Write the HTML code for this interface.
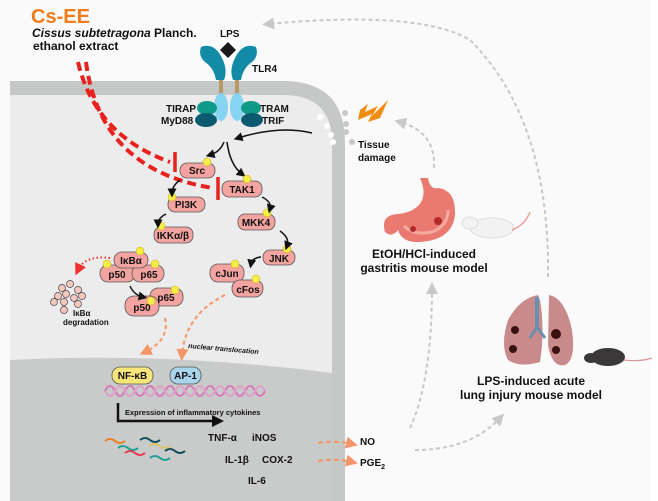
<!DOCTYPE html>
<html><head><meta charset="utf-8"><style>
html,body{margin:0;padding:0;background:#fff;}
svg{display:block;font-family:"Liberation Sans",Arial,sans-serif;font-weight:bold;}
</style></head><body>
<svg width="658" height="501" viewBox="0 0 658 501" xmlns="http://www.w3.org/2000/svg">
<defs>
<marker id="ga" markerWidth="6" markerHeight="6" refX="3" refY="3" orient="auto"><path d="M0,0 L6,3 L0,6z" fill="#c8c8c8"/></marker>
<marker id="oa" markerWidth="6" markerHeight="6" refX="3" refY="3" orient="auto"><path d="M0,0 L6,3 L0,6z" fill="#f4956a"/></marker>
<marker id="ka" markerWidth="6" markerHeight="6" refX="3" refY="3" orient="auto"><path d="M0,0 L6,3 L0,6z" fill="#111"/></marker>
<marker id="ra" markerWidth="6" markerHeight="6" refX="3" refY="3" orient="auto"><path d="M0,0 L6,3 L0,6z" fill="#e33"/></marker>
</defs>
<rect width="658" height="501" fill="#fafafa"/>
<rect x="651" y="0" width="7" height="501" fill="#fff"/>
<path d="M10,81 L283,81 Q345,81 345,143 L345,501 L10,501 Z" fill="#c6c7c7"/>
<path d="M10,95 L283,95 Q332,95 332,143 L332,501 L10,501 Z" fill="#ececec"/>
<path d="M10,360 Q170,352 332,373 L332,501 L10,501 Z" fill="#c9caca"/>
<text x="31" y="23" font-size="20" fill="#f07c1c">Cs-EE</text>
<text x="32" y="37" font-size="12" fill="#111"><tspan font-style="italic">Cissus subtetragona</tspan> Planch.</text>
<text x="33" y="50" font-size="12" fill="#111">ethanol extract</text>
<text x="220" y="37" font-size="10" fill="#111">LPS</text>
<path d="M228,42 L236,50 L228,58 L220,50z" fill="#1a1a1a"/>
<path d="M201,47 Q214,42 222,58 Q228,70 224,80 L216,80 Q214,68 205,62 Q198,56 201,47z" fill="#138aa6"/>
<path d="M256,47 Q243,42 235,58 Q229,70 233,80 L241,80 Q243,68 252,62 Q259,56 256,47z" fill="#138aa6"/>
<rect x="219" y="80" width="4" height="16" fill="#b89a6a"/><rect x="235" y="80" width="4" height="16" fill="#b89a6a"/>
<ellipse cx="221" cy="107" rx="7" ry="14" fill="#86d4f2"/><ellipse cx="237" cy="107" rx="7" ry="14" fill="#86d4f2"/>
<text x="252" y="72" font-size="10" fill="#111">TLR4</text>
<ellipse cx="207" cy="108" rx="10" ry="7" fill="#0f9a88"/><ellipse cx="206" cy="120" rx="11" ry="7" fill="#0b5a70"/>
<ellipse cx="251" cy="108" rx="10" ry="7" fill="#0f9a88"/><ellipse cx="252" cy="120" rx="11" ry="7" fill="#0b5a70"/>
<text x="166" y="112" font-size="10" fill="#111">TIRAP</text>
<text x="161" y="124" font-size="10" fill="#111">MyD88</text>
<text x="260" y="112" font-size="10" fill="#111">TRAM</text>
<text x="262" y="124" font-size="10" fill="#111">TRIF</text>
<path d="M312,133 Q280,125 238,138" stroke="#111" stroke-width="1.5" fill="none" marker-end="url(#ka)"/>
<path d="M224,142 Q220,152 210,155" stroke="#111" stroke-width="1.5" fill="none" marker-end="url(#ka)"/>
<path d="M227,142 Q230,165 242,174" stroke="#111" stroke-width="1.5" fill="none" marker-end="url(#ka)"/>
<path d="M78,62 Q95,135 170,162" stroke="#e8221f" stroke-width="4" stroke-dasharray="9,5" fill="none"/>
<line x1="175" y1="152" x2="175" y2="172" stroke="#e8221f" stroke-width="3.5"/>
<path d="M86,62 Q100,170 213,188" stroke="#e8221f" stroke-width="4" stroke-dasharray="9,5" fill="none"/>
<line x1="218" y1="177" x2="218" y2="200" stroke="#e8221f" stroke-width="3.5"/>
<g font-size="10" fill="#111" stroke="#555" stroke-width="0.8">
<rect x="180" y="163" width="35" height="15" rx="7" fill="#f4a4a0"/>
<rect x="222" y="181" width="40" height="16" rx="7" fill="#f4a4a0"/>
<rect x="168" y="197" width="37" height="15" rx="7" fill="#f4a4a0"/>
<rect x="238" y="214" width="37" height="16" rx="7" fill="#f4a4a0"/>
<rect x="154" y="227" width="39" height="16" rx="7" fill="#f4a4a0"/>
<rect x="263" y="250" width="32" height="15" rx="7" fill="#f4a4a0"/>
<rect x="100" y="265" width="35" height="17" rx="8" fill="#f4a4a0"/>
<rect x="132" y="265" width="32" height="17" rx="8" fill="#f4a4a0"/>
<rect x="114" y="252" width="34" height="16" rx="8" fill="#f4a4a0"/>
<rect x="150" y="288" width="33" height="18" rx="8" fill="#f4a4a0"/>
<rect x="125" y="296" width="34" height="20" rx="9" fill="#f4a4a0"/>
<rect x="210" y="264" width="34" height="18" rx="8" fill="#f4a4a0"/>
<rect x="232" y="280" width="31" height="17" rx="8" fill="#f4a4a0"/>
</g>
<g font-size="10" fill="#111" text-anchor="middle">
<text x="197" y="174">Src</text><text x="242" y="193">TAK1</text><text x="186" y="208">PI3K</text>
<text x="256" y="226">MKK4</text><text x="173" y="239">IKKα/β</text><text x="279" y="262">JNK</text>
<text x="131" y="264">IκBα</text><text x="117" y="278">p50</text><text x="149" y="278">p65</text>
<text x="166" y="301">p65</text><text x="142" y="311">p50</text>
<text x="227" y="277">cJun</text><text x="248" y="293">cFos</text>
</g>
<g fill="#f5ee4a" stroke="#c9a800" stroke-width="0.5">
<circle cx="207" cy="162" r="4"/><circle cx="247" cy="179" r="4"/><circle cx="172" cy="197" r="4"/><circle cx="267" cy="213" r="4"/>
<circle cx="161" cy="226" r="4"/><circle cx="287" cy="249" r="4"/><circle cx="140" cy="251" r="4"/><circle cx="107" cy="264" r="4"/>
<circle cx="155" cy="264" r="4"/><circle cx="175" cy="290" r="4"/><circle cx="151" cy="301" r="4"/><circle cx="235" cy="264" r="4"/><circle cx="256" cy="279" r="4"/>
</g>
<g stroke="#111" stroke-width="1.5" fill="none">
<path d="M180,180 Q172,186 172,193" marker-end="url(#ka)"/>
<path d="M262,197 Q272,202 270,209" marker-end="url(#ka)"/>
<path d="M166,214 Q158,218 158,224" marker-end="url(#ka)"/>
<path d="M280,231 Q290,238 287,246" marker-end="url(#ka)"/>
<path d="M130,286 Q134,295 143,297" marker-end="url(#ka)"/>
<path d="M261,257 Q252,258 251,264" marker-end="url(#ka)"/>
</g>
<path d="M110,258 Q85,255 78,270" stroke="#e33" stroke-width="2" stroke-dasharray="1.5,2.5" fill="none" marker-end="url(#ra)"/>
<g fill="#f7c8c0" stroke="#444" stroke-width="0.7">
<circle cx="62" cy="288" r="3.5"/><circle cx="70" cy="284" r="3.5"/><circle cx="78" cy="290" r="3.5"/><circle cx="58" cy="296" r="3.5"/>
<circle cx="66" cy="294" r="3.5"/><circle cx="74" cy="298" r="3.5"/><circle cx="82" cy="296" r="3.5"/><circle cx="54" cy="302" r="3.5"/>
<circle cx="64" cy="302" r="3.5"/><circle cx="78" cy="304" r="3.5"/><circle cx="64" cy="310" r="3.5"/>
</g>
<text x="73" y="316" font-size="8" fill="#111">IκBα</text>
<text x="63" y="325" font-size="8" fill="#111">degradation</text>
<path d="M165,318 Q170,340 145,352" stroke="#f4956a" stroke-width="2" stroke-dasharray="4,3" fill="none" marker-end="url(#oa)"/>
<path d="M225,295 Q185,315 182,355" stroke="#f4956a" stroke-width="2" stroke-dasharray="4,3" fill="none" marker-end="url(#oa)"/>
<text x="188" y="348" font-size="7" font-style="italic" fill="#111" transform="rotate(5 188 348)">nuclear translocation</text>
<rect x="112" y="367" width="41" height="17" rx="8" fill="#f8e57a" stroke="#555" stroke-width="0.8"/>
<text x="132.5" y="379" font-size="10" text-anchor="middle" fill="#111">NF-κB</text>
<rect x="170" y="367" width="31" height="17" rx="8" fill="#a8d4ec" stroke="#555" stroke-width="0.8"/>
<text x="185.5" y="379" font-size="10" text-anchor="middle" fill="#111">AP-1</text>
<path d="M105,391 Q110,381 115,391 T125,391 T135,391 T145,391 T155,391 T165,391 T175,391 T185,391 T195,391 T205,391 T215,391 T225,391 T235,391 T245,391 T255,391 T265,391" stroke="#d67ab8" stroke-width="2" fill="none"/>
<path d="M105,391 Q110,401 115,391 T125,391 T135,391 T145,391 T155,391 T165,391 T175,391 T185,391 T195,391 T205,391 T215,391 T225,391 T235,391 T245,391 T255,391 T265,391" stroke="#e0a0cc" stroke-width="2" fill="none"/>
<path d="M118,403 L118,421 L213,421" stroke="#111" stroke-width="2.5" fill="none"/>
<path d="M212,415 L224,421 L212,427z" fill="#111"/>
<text x="125" y="415" font-size="7.5" fill="#111">Expression of inflammatory cytokines</text>
<g stroke-width="1.8" fill="none">
<path d="M105,441 q5,-4 10,0 t10,0" stroke="#f07c1c"/><path d="M140,440 q5,-4 10,0 t10,0" stroke="#0b4a5a"/>
<path d="M118,448 q5,-4 10,0 t10,0" stroke="#17a090"/><path d="M150,446 q5,-4 10,0 t10,0" stroke="#f0c030" stroke-dasharray="2,1"/>
<path d="M125,453 q5,-4 10,0 t10,0" stroke="#e8344a"/><path d="M165,451 q5,-4 10,0 t10,0" stroke="#0b4a5a"/>
<path d="M150,458 q5,-4 10,0 t10,0" stroke="#17a090"/>
</g>
<g font-size="10" fill="#111">
<text x="208" y="441">TNF-α</text><text x="252" y="441">iNOS</text>
<text x="225" y="463">IL-1β</text><text x="262" y="463">COX-2</text><text x="248" y="484">IL-6</text>
<text x="360" y="445">NO</text><text x="360" y="466">PGE<tspan font-size="7" dy="3">2</tspan></text>
</g>
<path d="M318,443 Q335,440 352,444" stroke="#f4956a" stroke-width="2" stroke-dasharray="5,3" fill="none" marker-end="url(#oa)"/>
<path d="M318,461 Q335,458 352,462" stroke="#f4956a" stroke-width="2" stroke-dasharray="5,3" fill="none" marker-end="url(#oa)"/>
<g fill="#c8c8c8"><circle cx="330" cy="101" r="3"/><circle cx="334" cy="113" r="3"/><circle cx="345" cy="113" r="3"/><circle cx="346" cy="124" r="3"/><circle cx="346" cy="132" r="3"/><circle cx="352" cy="142" r="3"/></g>
<g fill="#fff"><circle cx="320" cy="117" r="3"/><circle cx="327" cy="126" r="3"/><circle cx="331" cy="135" r="3"/><circle cx="333" cy="142" r="3"/></g>
<path d="M360,110 L368,104 L365,112 L378,106 L372,116 L388,100 L380,118 L368,122 L372,114 L358,120z" fill="#f08c10"/>
<text x="358" y="148" font-size="10" fill="#111">Tissue</text>
<text x="358" y="161" font-size="10" fill="#111">damage</text>
<g stroke="#c8c8c8" stroke-width="2" stroke-dasharray="4,3" fill="none">
<path d="M434,168 Q436,132 400,122" marker-end="url(#ga)"/>
<path d="M548,277 Q550,120 470,40 Q420,10 268,24" marker-end="url(#ga)"/>
<path d="M410,428 Q432,380 432,288" marker-end="url(#ga)"/>
<path d="M415,450 Q470,450 500,418" marker-end="url(#ga)"/>
</g>
<path d="M420,178 L428,178 Q430,190 438,188 Q456,190 455,215 Q452,240 420,242 Q402,243 398,230 Q392,238 385,232 Q380,215 398,214 Q410,213 418,206 Q428,196 420,178z" fill="#ea7a70"/>
<path d="M404,226 Q415,236 432,232 Q448,226 448,210" stroke="#f4aaa0" stroke-width="3" fill="none"/>
<circle cx="438" cy="221" r="4" fill="#b52a2a"/><circle cx="413" cy="229" r="3" fill="#b52a2a"/>
<ellipse cx="492" cy="228" rx="22" ry="10" fill="#f2f2f2" stroke="#ddd"/>
<ellipse cx="470" cy="223" rx="8" ry="6" fill="#f2f2f2" stroke="#ddd"/>
<path d="M512,230 Q525,225 530,212" stroke="#e8a0a0" stroke-width="1.5" fill="none"/>
<path d="M538,295 Q520,298 508,320 Q500,345 508,360 Q520,368 540,362 Q545,330 540,300z" fill="#c88a8a"/>
<path d="M549,295 Q565,298 572,330 Q576,360 565,365 Q552,368 548,345z" fill="#c88a8a"/>
<rect x="535" y="297" width="4" height="30" fill="#6a90b0"/>
<path d="M537,327 L530,338 M537,327 L545,338" stroke="#6a90b0" stroke-width="3"/>
<circle cx="515" cy="330" r="4" fill="#3a1212"/><circle cx="513" cy="349" r="4" fill="#3a1212"/><circle cx="556" cy="334" r="5" fill="#3a1212"/><circle cx="556" cy="350" r="4" fill="#3a1212"/>
<ellipse cx="608" cy="357" rx="17" ry="9" fill="#3a3838"/><ellipse cx="591" cy="358" rx="7" ry="5" fill="#3a3838"/>
<path d="M624,360 Q640,362 652,358" stroke="#d89a9a" stroke-width="1.2" fill="none"/>
<g font-size="12" fill="#111" text-anchor="middle">
<text x="424" y="258">EtOH/HCl-induced</text><text x="424" y="272">gastritis mouse model</text>
<text x="531" y="385">LPS-induced acute</text><text x="531" y="399">lung injury mouse model</text>
</g>
</svg>
</body></html>
